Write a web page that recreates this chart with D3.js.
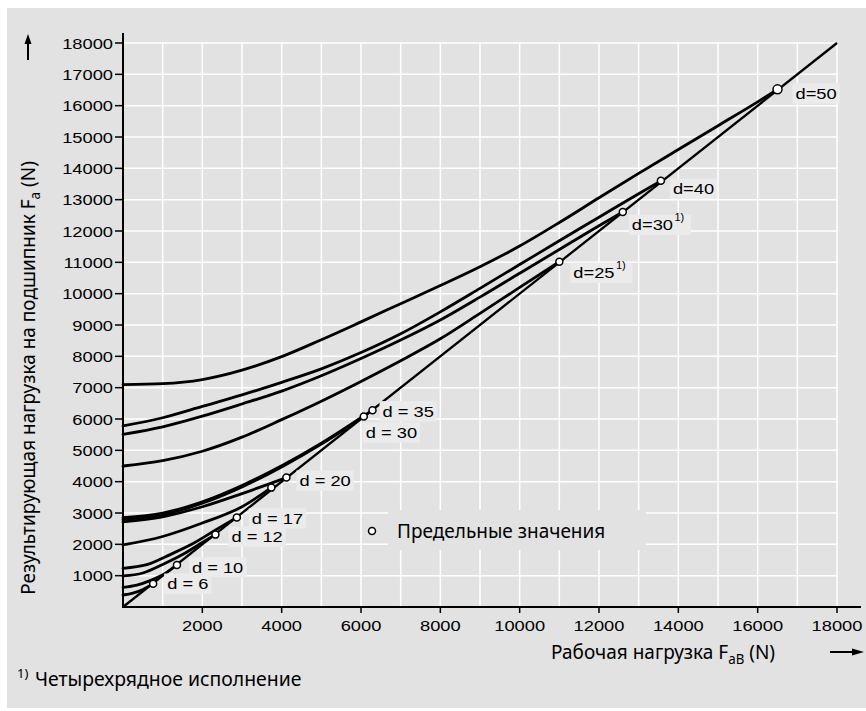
<!DOCTYPE html>
<html><head><meta charset="utf-8">
<script src="https://cdn.jsdelivr.net/npm/d3@7"></script>
<style>body{margin:0;background:#fff}</style>
</head><body><svg id="c" width="866" height="711"></svg>
<script>
// ---------- data ----------
const xTickValues = [2000,4000,6000,8000,10000,12000,14000,16000,18000];
const yTickValues = [1000,2000,3000,4000,5000,6000,7000,8000,9000,10000,11000,12000,13000,14000,15000,16000,17000,18000];
const diagonal = [[0,0],[18000,18000]];

const curveD50  = [[0,7100],[1000,7130],[2000,7260],[3000,7560],[4000,7990],[5000,8530],[6000,9100],[7000,9680],[8000,10260],[9000,10860],[10000,11520],[11000,12270],[12000,13060],[13000,13840],[14000,14600],[15000,15360],[16000,16120],[16500,16520]];
const curveD40  = [[0,5780],[1000,6040],[2000,6400],[3000,6770],[4000,7170],[5000,7600],[6000,8120],[7000,8720],[8000,9420],[9000,10170],[10000,10930],[11000,11690],[12000,12440],[13000,13190],[13560,13600]];
const curveD30q = [[0,5510],[1000,5750],[2000,6090],[3000,6480],[4000,6890],[5000,7380],[6000,7930],[7000,8520],[8000,9160],[9000,9890],[10000,10650],[11000,11410],[12000,12170],[12600,12610]];
const curveD25q = [[0,4500],[1000,4670],[2000,4970],[3000,5420],[4000,5980],[5000,6570],[6000,7200],[7000,7860],[8000,8560],[9000,9370],[10000,10200],[11000,11020]];
const curveD35  = [[0,2850],[1000,3000],[2000,3360],[3000,3880],[4000,4510],[5000,5230],[6000,6040],[6290,6280]];
const curveD30  = [[0,2790],[1000,2950],[2000,3310],[3000,3830],[4000,4470],[5000,5200],[6070,6080]];
const curveD20  = [[0,2720],[1000,2880],[2000,3200],[3000,3620],[4120,4130]];
const curveDx   = [[0,1980],[1000,2250],[2000,2680],[3000,3200],[3740,3810]];
const curveD17  = [[0,1234],[600,1350],[1200,1680],[1800,2050],[2400,2510],[2870,2860]];
const curveD12  = [[0,990],[500,1085],[1000,1356],[1500,1673],[2000,2059],[2330,2310]];
const curveD10  = [[0,628],[350,700],[700,850],[1050,1060],[1360,1340]];
const curveD6   = [[0,383],[250,440],[500,560],[760,745]];
const curves = [curveD50,curveD40,curveD30q,curveD25q,curveD35,curveD30,curveD20,curveDx,curveD17,curveD12,curveD10,curveD6];

// limit points and their labels
const limitX     = [760,1360,2330,2870,3740,4120,6070,6290,11000,12600,13560,16500];
const limitY     = [745,1340,2310,2860,3810,4130,6080,6280,11020,12610,13600,16520];
const limitLabel = ["d = 6","d = 10","d = 12","d = 17","","d = 20","d = 30","d = 35","d=25","d=30","d=40","d=50"];
const limitSup   = ["","","","","","","","","1)","1)","",""];
const labelDx    = [14,15,16,15,0,13,2,10,14,9,12,18];
const labelDy    = [0,2,2,1,0,3,16,1,11,13,8,4];

const xTitle = "Рабочая нагрузка F";
const xTitleSub = "aB";
const yTitle = "Результирующая нагрузка на подшипник F";
const yTitleSub = "a";
const unitText = " (N)";
const legendText = "Предельные значения";
const footnoteText = "Четырехрядное исполнение";

// ---------- drawing ----------
const svg = d3.select("#c");
const panel = "#e2e2e2";
svg.append("rect").attr("x",7).attr("y",8).attr("width",859).attr("height",700).attr("fill",panel);

const x = d3.scaleLinear().domain([0,18000]).range([123,837]);
const y = d3.scaleLinear().domain([0,18000]).range([607,43]);
const grid = d3.range(1000,18001,1000);

const gg = svg.append("g");
gg.selectAll("line.v").data(grid).join("line").attr("class","v")
  .attr("x1",d=>x(d)).attr("x2",d=>x(d)).attr("y1",y(0)).attr("y2",y(18000))
  .attr("stroke","#fff").attr("stroke-width",1.5);
gg.selectAll("line.h").data(grid).join("line").attr("class","h")
  .attr("y1",d=>y(d)).attr("y2",d=>y(d)).attr("x1",x(0)).attr("x2",x(18000))
  .attr("stroke","#fff").attr("stroke-width",1.5);

// legend background hiding grid
svg.append("rect").attr("x",388).attr("y",510).attr("width",258).attr("height",40).attr("fill",panel);

const SX = 1.18;
const helv = "'Liberation Sans', Arial, Helvetica, sans-serif";
const myr = "'Noto Sans', 'Open Sans', sans-serif";
const MS = 0.95;

// axes
svg.append("line").attr("x1",x(0)).attr("x2",x(0)).attr("y1",y(0)).attr("y2",33).attr("stroke","#000").attr("stroke-width",2);
svg.append("line").attr("x1",x(0)-1).attr("x2",861).attr("y1",y(0)).attr("y2",y(0)).attr("stroke","#000").attr("stroke-width",2);

const yt = svg.append("g");
yTickValues.forEach(v=>{
  yt.append("line").attr("x1",x(0)-8).attr("x2",x(0)).attr("y1",y(v)).attr("y2",y(v)).attr("stroke","#000").attr("stroke-width",1.5);
  yt.append("g").attr("transform",`translate(${x(0)-10},${y(v)}) scale(${SX},1)`)
    .append("text").attr("text-anchor","end").attr("dy","0.36em")
    .attr("font-family",helv).attr("font-size",15.5).attr("fill","#000").text(v);
});
const xt = svg.append("g");
xTickValues.forEach(v=>{
  xt.append("line").attr("x1",x(v)).attr("x2",x(v)).attr("y1",y(0)).attr("y2",y(0)+6).attr("stroke","#000").attr("stroke-width",1.5);
  xt.append("g").attr("transform",`translate(${x(v)},${y(0)+18}) scale(${SX},1)`)
    .append("text").attr("text-anchor","middle").attr("dy","0.36em")
    .attr("font-family",helv).attr("font-size",15.5).attr("fill","#000").text(v);
});

// curves
const line = d3.line().x(d=>x(d[0])).y(d=>y(d[1])).curve(d3.curveMonotoneX);
svg.append("path").attr("d",line(diagonal)).attr("fill","none").attr("stroke","#000").attr("stroke-width",2.3);
svg.selectAll("path.c").data(curves).join("path").attr("class","c")
  .attr("d",line).attr("fill","none").attr("stroke","#000").attr("stroke-width",2.8).attr("stroke-linecap","round");

// labels
limitX.forEach((lx,i)=>{
  if(!limitLabel[i]) return;
  const g = svg.append("g").attr("transform",`translate(${x(lx)+labelDx[i]},${y(limitY[i])+labelDy[i]})`);
  const bg = g.append("rect").attr("fill","#ebebeb");
  const t = g.append("text").attr("transform",`scale(${SX},1)`).attr("dy","0.36em")
    .attr("font-family",helv).attr("font-size",15.5).attr("fill","#000").text(limitLabel[i]);
  const bb = t.node().getBBox();
  let w = bb.width*SX;
  if(limitSup[i]){
    g.append("text").attr("x",w+1.5).attr("y",-4).attr("font-family",helv).attr("font-size",11).attr("fill","#000").text(limitSup[i]);
    w += 15;
  }
  bg.attr("x",-3).attr("y",bb.y-2).attr("width",w+6).attr("height",bb.height+3);
});

// points
svg.selectAll("circle.p").data(limitX).join("circle").attr("class","p")
  .attr("cx",d=>x(d)).attr("cy",(d,i)=>y(limitY[i])).attr("r",(d,i)=>i===limitX.length-1?4.5:3.5)
  .attr("fill","#fff").attr("stroke","#000").attr("stroke-width",1.5);

// legend
svg.append("circle").attr("cx",372).attr("cy",531).attr("r",3.5).attr("fill","#fff").attr("stroke","#000").attr("stroke-width",1.5);
svg.append("g").attr("transform",`translate(397,538) scale(${MS},1)`)
  .append("text").attr("font-family",myr).attr("font-size",20).attr("fill","#000").text(legendText);

// x title
const xtt = svg.append("g").attr("transform",`translate(551,659) scale(${MS},1)`)
  .append("text").attr("font-family",myr).attr("font-size",20).attr("fill","#000");
xtt.append("tspan").text(xTitle);
xtt.append("tspan").attr("dy",5).attr("font-size",14).text(xTitleSub);
xtt.append("tspan").attr("dy",-5).text(unitText);

// y title
const ytt = svg.append("g").attr("transform",`translate(35,378) rotate(-90) scale(${MS},1)`)
  .append("text").attr("text-anchor","middle").attr("font-family",myr).attr("font-size",20).attr("fill","#000");
ytt.append("tspan").text(yTitle);
ytt.append("tspan").attr("dy",5).attr("font-size",14).text(yTitleSub);
ytt.append("tspan").attr("dy",-5).text(unitText);

// arrows
svg.append("line").attr("x1",28).attr("x2",28).attr("y1",60).attr("y2",42).attr("stroke","#000").attr("stroke-width",2);
svg.append("path").attr("d","M28,34 L24.5,44 L31.5,44 Z").attr("fill","#000");
svg.append("line").attr("x1",830).attr("x2",853).attr("y1",652).attr("y2",652).attr("stroke","#000").attr("stroke-width",2);
svg.append("path").attr("d","M864,652 L852,648.5 L852,655.5 Z").attr("fill","#000");

// footnote
svg.append("text").attr("x",17).attr("y",678).attr("font-family",myr).attr("font-size",13).attr("fill","#000").text("1)");
svg.append("g").attr("transform","translate(35,686) scale(0.97,1)")
  .append("text").attr("font-family",myr).attr("font-size",20).attr("fill","#000").text(footnoteText);
</script></body></html>
